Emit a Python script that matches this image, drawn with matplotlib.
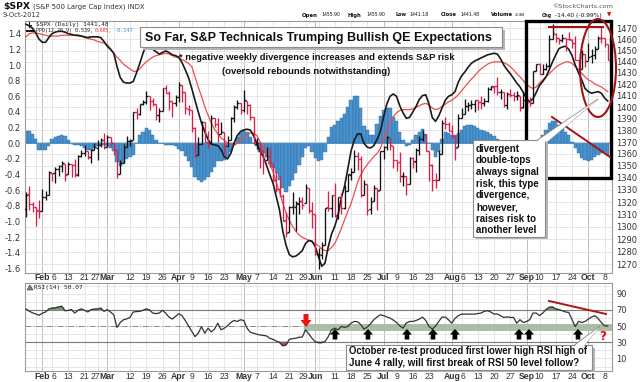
import numpy as np
import pandas as pd
import matplotlib
matplotlib.use("Agg")
import matplotlib.pyplot as plt
from matplotlib.patches import Rectangle, Ellipse, Polygon
from matplotlib.collections import LineCollection
from matplotlib.transforms import blended_transform_factory as btf
from matplotlib.ticker import FixedLocator, FixedFormatter, NullLocator

# ---------------- data ----------------
holidays = ['2012-02-20', '2012-04-06', '2012-05-28', '2012-07-04', '2012-09-03']
start_date, end_date = '2012-01-25', '2012-10-09'

opens = [1314.4, 1326.3, 1318.3, 1316.2, 1313.5,
 1312.5, 1324.2, 1326.2, 1344.3, 1344.3, 1347.0, 1350.0, 1351.2, 1343.1, 1351.3, 1350.5, 1342.6, 1358.1, 1361.2, 1362.1, 1357.5, 1363.5, 1365.2, 1367.6, 1372.2,
 1365.9, 1374.1, 1369.6, 1363.6, 1343.4, 1352.6, 1366.0, 1370.8, 1371.9, 1396.0, 1394.2, 1402.6, 1404.2, 1409.6, 1405.5, 1402.9, 1392.8, 1397.1, 1416.6, 1412.5, 1405.4, 1403.3,
 1408.5, 1419.0, 1413.1, 1398.8, 1397.5, 1382.2, 1359.0, 1368.8, 1387.6, 1370.3, 1369.6, 1390.8, 1385.1, 1377.0, 1378.5, 1367.0, 1372.1, 1390.6, 1400.2, 1403.3,
 1397.9, 1405.5, 1402.3, 1391.5, 1368.8, 1369.2, 1363.2, 1354.6, 1358.1, 1351.9, 1338.4, 1330.8, 1324.8, 1305.1, 1295.7, 1316.1, 1316.0, 1318.7, 1320.8, 1318.9, 1331.3, 1313.1,
 1309.9, 1278.3, 1277.8, 1285.6, 1316.1, 1315.0, 1325.7, 1309.4, 1324.0, 1314.9, 1329.2, 1342.4, 1344.8, 1358.0, 1355.4, 1325.9, 1334.9, 1314.1, 1320.7, 1331.5, 1330.1,
 1362.3, 1365.8, 1373.7, 1367.1, 1354.7, 1353.0, 1341.4, 1341.3, 1334.8, 1356.5, 1353.7, 1363.6, 1373.0, 1376.5, 1362.3, 1350.5, 1338.4, 1338.2, 1360.1, 1385.9, 1385.3,
 1379.3, 1375.1, 1365.5, 1391.0, 1394.5, 1401.2, 1402.3, 1402.6, 1405.9, 1404.4, 1403.9, 1405.6, 1415.8, 1417.9, 1418.1, 1413.1, 1413.5, 1402.0, 1411.1, 1410.4, 1409.3, 1410.1, 1400.1,
 1406.5, 1404.9, 1403.7, 1432.1, 1437.9, 1429.1, 1433.6, 1436.6, 1460.1, 1465.4, 1461.2, 1459.5, 1461.1, 1460.3, 1459.8, 1456.9, 1441.6, 1433.4, 1447.1,
 1440.9, 1445.0, 1446.1, 1451.1, 1461.4, 1460.9, 1455.9]
highs = [1328.3, 1333.5, 1320.1, 1316.2, 1321.4,
 1330.5, 1329.2, 1345.3, 1344.4, 1349.2, 1351.0, 1354.3, 1351.2, 1353.4, 1351.3, 1355.9, 1359.0, 1363.4, 1367.8, 1362.7, 1364.2, 1368.9, 1371.9, 1373.1, 1378.0,
 1376.2, 1374.5, 1369.6, 1363.6, 1354.9, 1368.7, 1374.8, 1373.0, 1396.1, 1399.4, 1402.6, 1405.9, 1414.0, 1409.6, 1407.8, 1402.9, 1399.2, 1416.6, 1419.2, 1413.7, 1405.4, 1410.9,
 1422.4, 1419.0, 1413.1, 1401.6, 1397.5, 1383.0, 1374.7, 1388.1, 1387.6, 1379.7, 1392.8, 1390.8, 1390.3, 1387.4, 1378.5, 1375.6, 1391.4, 1402.1, 1406.6, 1403.3,
 1415.3, 1405.5, 1403.1, 1391.5, 1373.9, 1369.2, 1363.7, 1365.9, 1365.7, 1351.9, 1344.9, 1341.8, 1326.4, 1312.2, 1316.4, 1328.5, 1320.7, 1324.1, 1324.2, 1334.9, 1331.3, 1319.7,
 1309.9, 1282.6, 1287.6, 1315.1, 1329.1, 1325.8, 1335.5, 1324.3, 1327.3, 1333.7, 1343.3, 1348.2, 1363.5, 1361.6, 1358.3, 1337.8, 1334.9, 1324.2, 1334.4, 1331.5, 1362.2,
 1366.4, 1374.8, 1373.8, 1367.1, 1354.7, 1361.5, 1345.0, 1341.3, 1357.7, 1357.3, 1365.4, 1375.3, 1380.4, 1376.5, 1362.3, 1351.5, 1344.0, 1363.1, 1389.2, 1391.7, 1387.2,
 1385.0, 1375.1, 1394.2, 1399.6, 1407.1, 1404.1, 1406.0, 1406.0, 1405.9, 1410.0, 1407.7, 1417.4, 1418.7, 1418.1, 1426.7, 1416.1, 1413.5, 1413.5, 1416.2, 1413.6, 1414.0, 1410.1, 1413.1,
 1409.3, 1408.8, 1432.1, 1437.9, 1438.7, 1437.8, 1439.2, 1463.8, 1474.5, 1465.6, 1461.5, 1465.1, 1461.2, 1467.1, 1460.7, 1463.2, 1441.6, 1450.2, 1447.1,
 1457.1, 1451.5, 1454.3, 1463.1, 1471.0, 1460.9, 1455.9]
lows = [1307.7, 1313.6, 1311.7, 1300.5, 1306.7,
 1312.5, 1321.6, 1326.2, 1337.5, 1335.9, 1341.9, 1344.6, 1337.4, 1343.1, 1340.8, 1340.8, 1341.2, 1357.2, 1358.1, 1355.5, 1352.3, 1363.5, 1354.9, 1366.0, 1363.8,
 1365.9, 1366.4, 1359.1, 1340.0, 1343.4, 1352.6, 1366.0, 1366.7, 1371.9, 1390.0, 1392.8, 1401.5, 1402.4, 1397.7, 1400.6, 1388.7, 1386.9, 1397.1, 1412.0, 1397.2, 1391.6, 1401.4,
 1404.5, 1404.6, 1394.1, 1392.9, 1378.2, 1357.4, 1359.0, 1368.8, 1369.9, 1365.4, 1369.6, 1383.3, 1370.3, 1377.0, 1358.8, 1366.8, 1372.1, 1387.3, 1398.0, 1394.0,
 1395.7, 1393.9, 1388.7, 1368.0, 1363.9, 1347.8, 1343.1, 1354.6, 1348.9, 1336.6, 1328.5, 1324.8, 1304.9, 1292.0, 1295.7, 1310.0, 1296.5, 1310.5, 1314.2, 1318.9, 1310.8, 1298.9,
 1277.3, 1266.7, 1274.2, 1285.6, 1312.7, 1307.8, 1307.7, 1306.6, 1310.5, 1314.1, 1329.2, 1338.6, 1344.8, 1346.5, 1324.4, 1325.9, 1309.3, 1310.3, 1320.7, 1313.3, 1330.1,
 1355.7, 1363.5, 1363.0, 1348.0, 1345.7, 1336.3, 1333.3, 1325.4, 1334.8, 1348.5, 1345.1, 1359.0, 1371.2, 1362.2, 1337.6, 1329.2, 1331.5, 1338.2, 1360.1, 1381.4, 1379.2,
 1373.1, 1354.7, 1365.5, 1391.0, 1394.5, 1396.6, 1398.8, 1395.6, 1397.3, 1398.6, 1401.0, 1404.2, 1414.7, 1412.1, 1410.9, 1406.8, 1400.5, 1398.0, 1409.1, 1405.6, 1406.6, 1397.0, 1399.0,
 1396.6, 1401.3, 1403.7, 1431.5, 1429.1, 1429.1, 1433.0, 1435.3, 1460.1, 1457.6, 1456.1, 1457.9, 1450.0, 1459.5, 1452.1, 1441.6, 1430.5, 1433.4, 1435.2,
 1440.9, 1439.0, 1442.0, 1451.1, 1456.9, 1453.1, 1441.2]
closes = [1326.1, 1318.4, 1316.3, 1313.0, 1312.4,
 1324.1, 1325.5, 1344.9, 1344.3, 1347.1, 1350.0, 1352.0, 1342.6, 1351.8, 1350.5, 1343.2, 1358.0, 1361.2, 1362.2, 1357.7, 1363.5, 1365.7, 1367.6, 1372.2, 1365.7,
 1374.1, 1370.0, 1364.3, 1343.4, 1352.6, 1366.0, 1370.9, 1371.1, 1396.0, 1394.3, 1402.6, 1404.2, 1409.8, 1405.5, 1402.9, 1392.8, 1397.1, 1416.5, 1412.5, 1405.5, 1403.3, 1408.5,
 1419.0, 1413.4, 1399.0, 1398.1, 1382.2, 1358.6, 1368.7, 1387.6, 1370.3, 1369.6, 1390.8, 1385.1, 1376.9, 1378.5, 1366.9, 1372.0, 1390.7, 1400.0, 1403.4, 1397.9,
 1405.8, 1402.3, 1391.6, 1369.1, 1369.6, 1363.7, 1354.6, 1358.0, 1353.4, 1338.4, 1330.7, 1324.8, 1304.9, 1295.2, 1316.0, 1316.6, 1318.9, 1320.7, 1317.8, 1332.4, 1313.3, 1310.3,
 1278.0, 1278.2, 1285.5, 1315.1, 1315.0, 1325.7, 1308.9, 1324.2, 1314.9, 1329.1, 1342.8, 1344.8, 1358.0, 1355.7, 1325.5, 1335.0, 1313.7, 1320.0, 1331.9, 1329.0, 1362.2,
 1365.5, 1374.0, 1367.6, 1354.7, 1352.5, 1341.5, 1341.5, 1334.8, 1356.8, 1353.6, 1363.7, 1372.8, 1376.5, 1362.7, 1350.5, 1338.3, 1337.9, 1360.0, 1386.0, 1385.3, 1379.3,
 1375.3, 1365.0, 1391.0, 1394.2, 1401.4, 1402.2, 1402.8, 1405.9, 1404.1, 1403.9, 1405.5, 1415.5, 1418.2, 1418.1, 1413.2, 1413.5, 1402.1, 1411.1, 1410.4, 1409.3, 1410.5, 1399.5, 1406.6,
 1404.9, 1403.4, 1432.1, 1437.9, 1429.1, 1433.6, 1436.6, 1460.0, 1465.8, 1461.2, 1459.3, 1461.1, 1460.3, 1460.2, 1456.9, 1441.6, 1433.3, 1447.2, 1440.7,
 1444.5, 1445.8, 1451.0, 1461.4, 1460.9, 1455.9, 1441.5]

ppo_line = [1.52, 1.50, 1.47, 1.41, 1.33, 1.29, 1.29, 1.35, 1.40, 1.42,
 1.43, 1.43, 1.42, 1.40, 1.39, 1.38, 1.38, 1.37, 1.36, 1.35,
 1.36, 1.36, 1.36, 1.35, 1.30, 1.24, 1.20, 1.15, 0.98, 0.84,
 0.78, 0.77, 0.77, 0.79, 0.90, 1.02, 1.15, 1.26, 1.24, 1.20,
 1.17, 1.14, 1.16, 1.18, 1.16, 1.13, 1.12, 1.10, 1.03, 0.94,
 0.84, 0.70, 0.55, 0.40, 0.26, 0.15, 0.05, -0.01, -0.02, -0.03,
 -0.08, -0.17, -0.20, -0.13, 0.00, 0.10, 0.15, 0.17, 0.18, 0.17,
 0.10, 0.00, -0.10, -0.17, -0.28, -0.40, -0.51, -0.68, -0.85, -1.12,
 -1.30, -1.42, -1.45, -1.44, -1.41, -1.37, -1.28, -1.24, -1.25, -1.32,
 -1.45, -1.57, -1.53, -1.32, -1.16, -1.06, -0.92, -0.70, -0.55, -0.33,
 -0.10, 0.04, 0.12, 0.12, 0.00, -0.05, -0.06, -0.03, 0.05, 0.15,
 0.33, 0.50, 0.60, 0.63, 0.60, 0.48, 0.39, 0.32, 0.33, 0.40,
 0.47, 0.56, 0.61, 0.62, 0.50, 0.33, 0.28, 0.35, 0.45, 0.55,
 0.60, 0.62, 0.66, 0.78, 0.86, 0.91, 0.97, 1.02, 1.05, 1.07,
 1.09, 1.11, 1.13, 1.14, 1.15, 1.14, 1.08, 1.00, 0.94, 0.89,
 0.83, 0.77, 0.72, 0.65, 0.57, 0.53, 0.57, 0.65, 0.74, 0.79,
 0.85, 0.94, 1.04, 1.13, 1.21, 1.23, 1.24, 1.20, 1.12, 1.00,
 0.90, 0.81, 0.70, 0.66, 0.64, 0.65, 0.66, 0.64, 0.58, 0.54]
ppo_signal = [1.36, 1.40, 1.41, 1.41, 1.40, 1.39, 1.38, 1.37, 1.37, 1.37,
 1.37, 1.38, 1.38, 1.38, 1.38, 1.38, 1.37, 1.37, 1.35, 1.34,
 1.33, 1.32, 1.30, 1.29, 1.28, 1.26, 1.21, 1.15, 1.10, 1.06,
 1.01, 0.98, 0.95, 0.92, 0.92, 0.95, 1.00, 1.04, 1.07, 1.10,
 1.12, 1.13, 1.14, 1.15, 1.14, 1.12, 1.10, 1.09, 1.07, 1.05,
 1.02, 0.98, 0.85, 0.72, 0.60, 0.47, 0.36, 0.26, 0.18, 0.12,
 0.07, 0.04, 0.00, -0.01, -0.02, 0.00, 0.03, 0.07, 0.11, 0.13,
 0.13, 0.10, 0.02, -0.05, -0.15, -0.27, -0.36, -0.50, -0.62, -0.76,
 -0.89, -0.98, -1.06, -1.12, -1.17, -1.20, -1.22, -1.24, -1.26, -1.28,
 -1.31, -1.35, -1.37, -1.37, -1.33, -1.28, -1.19, -1.09, -0.98, -0.87,
 -0.77, -0.64, -0.50, -0.40, -0.33, -0.27, -0.22, -0.17, -0.13, -0.07,
 0.06, 0.16, 0.27, 0.34, 0.39, 0.42, 0.43, 0.43, 0.43, 0.44,
 0.46, 0.48, 0.50, 0.51, 0.49, 0.45, 0.43, 0.44, 0.47, 0.50,
 0.53, 0.55, 0.58, 0.62, 0.67, 0.72, 0.77, 0.82, 0.86, 0.91,
 0.95, 0.98, 1.01, 1.03, 1.04, 1.04, 1.04, 1.03, 1.01, 0.98,
 0.94, 0.89, 0.85, 0.80, 0.75, 0.72, 0.70, 0.72, 0.77, 0.81,
 0.85, 0.89, 0.93, 0.97, 1.00, 1.02, 1.04, 1.04, 1.02, 0.98,
 0.94, 0.89, 0.85, 0.81, 0.79, 0.76, 0.74, 0.72, 0.69, 0.66]
ppo_hist = [0.16, 0.16, 0.12, 0.05, -0.08, -0.09, -0.08, -0.03, 0.05, 0.08,
 0.09, 0.10, 0.09, 0.04, -0.01, -0.02, -0.02, -0.03, -0.06, -0.09,
 -0.08, -0.06, -0.04, -0.02, -0.02, -0.04, -0.06, -0.10, -0.24, -0.29,
 -0.25, -0.20, -0.17, -0.15, 0.00, 0.10, 0.15, 0.19, 0.17, 0.10,
 0.04, 0.00, 0.01, -0.02, -0.02, -0.02, -0.04, -0.07, -0.10, -0.16,
 -0.22, -0.30, -0.43, -0.47, -0.50, -0.47, -0.43, -0.36, -0.30, -0.23,
 -0.22, -0.21, -0.17, -0.11, -0.02, 0.08, 0.13, 0.17, 0.15, 0.08,
 0.00, -0.04, -0.11, -0.13, -0.17, -0.26, -0.32, -0.38, -0.47, -0.57,
 -0.62, -0.55, -0.47, -0.38, -0.28, -0.17, -0.06, -0.04, -0.11, -0.19,
 -0.23, -0.21, -0.11, 0.08, 0.21, 0.23, 0.29, 0.32, 0.37, 0.46,
 0.55, 0.60, 0.60, 0.45, 0.22, 0.17, 0.10, 0.10, 0.25, 0.35,
 0.42, 0.45, 0.45, 0.34, 0.28, 0.15, 0.04, -0.04, -0.02, 0.04,
 0.10, 0.15, 0.18, 0.10, 0.00, -0.09, -0.17, -0.11, 0.06, 0.15,
 0.13, 0.10, 0.10, 0.13, 0.17, 0.22, 0.23, 0.23, 0.22, 0.19,
 0.17, 0.16, 0.15, 0.12, 0.09, 0.06, 0.02, -0.02, -0.05, -0.07,
 -0.09, -0.10, -0.11, -0.11, -0.10, -0.08, -0.05, -0.01, 0.04, 0.10,
 0.17, 0.26, 0.28, 0.28, 0.23, 0.19, 0.15, 0.10, 0.02, -0.06,
 -0.13, -0.19, -0.21, -0.22, -0.21, -0.18, -0.15, -0.13, -0.11, -0.15]
rsi14 = [71.0, 68.5, 66.5, 65.0, 63.5, 66.0, 67.5, 71.0, 72.3, 72.5,
 73.7, 74.6, 69.0, 69.5, 70.4, 66.2, 69.6, 71.2, 69.6, 67.5,
 70.4, 71.0, 71.2, 72.3, 68.3, 70.4, 67.5, 64.0, 48.3, 54.5,
 57.9, 59.0, 60.8, 67.5, 68.0, 68.3, 69.6, 71.2, 70.0, 66.2,
 65.5, 66.2, 69.6, 66.0, 61.2, 58.7, 62.0, 65.4, 62.9, 57.0,
 50.4, 44.0, 37.0, 41.2, 49.5, 41.2, 47.5, 42.9, 46.3, 53.7,
 45.4, 47.5, 50.4, 54.5, 57.0, 55.8, 57.9, 57.0, 47.5, 42.5,
 41.2, 40.0, 39.1, 38.5, 37.9, 35.0, 33.7, 31.5, 30.0, 25.8,
 26.6, 33.7, 34.5, 35.0, 36.3, 36.5, 45.4, 40.4, 35.0, 30.5,
 29.6, 29.6, 31.0, 37.0, 45.4, 47.5, 45.4, 49.6, 48.5, 49.6,
 53.7, 55.8, 55.5, 52.0, 46.3, 49.0, 53.0, 57.9, 61.2, 64.1,
 63.0, 61.5, 60.0, 57.5, 54.5, 50.4, 47.5, 53.7, 55.8, 55.8,
 57.0, 58.7, 61.2, 57.0, 49.6, 46.3, 50.0, 55.8, 61.2, 61.2,
 57.9, 53.7, 59.6, 63.0, 64.9, 64.9, 65.0, 65.0, 64.9, 65.5,
 66.2, 68.3, 69.1, 67.5, 64.9, 65.0, 63.0, 60.8, 61.5, 60.8,
 60.8, 53.7, 57.9, 54.5, 55.8, 58.0, 66.2, 66.2, 63.0, 66.2,
 70.4, 73.3, 73.7, 71.2, 70.4, 69.1, 67.5, 67.0, 57.9, 49.5,
 55.8, 54.5, 55.8, 58.7, 61.2, 63.0, 59.6, 54.5, 50.4, 50.07]

ppo_ticks = [-1.6, -1.4, -1.2, -1.0, -0.8, -0.6, -0.4, -0.2, 0.0, 0.2, 0.4, 0.6, 0.8, 1.0, 1.2, 1.4]
price_ticks = list(range(1270, 1471, 10))
rsi_ticks = [10, 30, 50, 70, 90]

# ---------------- layout ----------------
W, H = 640, 382
fig = plt.figure(figsize=(W / 100, H / 100), dpi=100)
fig.patch.set_facecolor('white')
renderer = fig.canvas.get_renderer()

def P(x, y):
    return (x / W, 1 - y / H)

L, R = 25, 612
T1, B1 = 21, 273.3
T2, B2 = 282.5, 371
ax = fig.add_axes([L / W, 1 - B1 / H, (R - L) / W, (B1 - T1) / H])
axp = ax.twinx()
axr = fig.add_axes([L / W, 1 - B2 / H, (R - L) / W, (B2 - T2) / H])

dates = pd.bdate_range(start_date, end_date)
dates = dates[~dates.isin(pd.to_datetime(holidays))]
n = len(dates)
xs = np.arange(n)
XMIN, XMAX = -0.31, 180.3
PXB = (R - L) / (XMAX - XMIN)   # pixels per bar

opens_a, highs_a, lows_a, closes_a = map(np.array, (opens, highs, lows, closes))
ppo_a, sig_a, hist_a, rsi_a = map(np.array, (ppo_line, ppo_signal, ppo_hist, rsi14))

week_idx = [i for i in range(1, n) if dates[i].isocalendar()[1] != dates[i - 1].isocalendar()[1]]
month_idx = [i for i in range(1, n) if dates[i].month != dates[i - 1].month]

GRID = '#e2e2e2'
MGRID = '#bdbdbd'
TXT = '#333333'

for a in (ax, axr):
    a.set_xlim(XMIN, XMAX)
    a.set_xticks([])
    for i in week_idx:
        if i not in month_idx:
            a.axvline(i, color=GRID, lw=0.6, zorder=0)
    for i in month_idx:
        a.axvline(i, color=MGRID, lw=0.7, zorder=0)
    for s in a.spines.values():
        s.set_color('#9a9a9a')
        s.set_linewidth(0.8)
for s in axp.spines.values():
    s.set_visible(False)

# ---------------- main panel ----------------
ax.set_ylim(-1.66, 1.562)
axp.set_yscale('log')
axp.set_ylim(1263.0, 1476.8)

hgrid_tr = btf(ax.transAxes, axp.transData)
for p in price_ticks:
    ax.plot([0, 1], [p, p], transform=hgrid_tr, color=GRID, lw=0.6, zorder=0)

ax.bar(xs, hist_a, width=1.0, color='#4a93cd', edgecolor='#2c6ba5', linewidth=0.3, zorder=2)
ax.axhline(0, color='#4a93cd', lw=0.7, zorder=2)
ax.plot(xs, sig_a, color='#f04c4c', lw=0.9, zorder=3)
ax.plot(xs, ppo_a, color='#1a1a1a', lw=1.2, zorder=4)

prev = np.concatenate([[opens_a[0] + 1], closes_a[:-1]])
bar_cols = np.where(closes_a >= prev, '#111111', '#dc1f48')
segs, cols = [], []
for i in range(n):
    segs.append([(i, lows_a[i]), (i, highs_a[i])])
    segs.append([(i - 0.55, opens_a[i]), (i, opens_a[i])])
    segs.append([(i, closes_a[i]), (i + 0.55, closes_a[i])])
    cols += [bar_cols[i]] * 3
axp.add_collection(LineCollection(segs, colors=cols, linewidths=0.95, zorder=5))
axp.set_xlim(XMIN, XMAX)

ax.yaxis.set_major_locator(FixedLocator(ppo_ticks))
ax.yaxis.set_major_formatter(FixedFormatter([f"{v:.1f}" for v in ppo_ticks]))
ax.tick_params(axis='y', labelsize=6, colors=TXT, length=0, pad=3)
axp.yaxis.set_major_locator(FixedLocator(price_ticks))
axp.yaxis.set_major_formatter(FixedFormatter([str(p) for p in price_ticks]))
axp.yaxis.set_minor_locator(NullLocator())
axp.tick_params(axis='y', which='both', labelsize=6, colors=TXT, length=0, pad=3)

# ---------------- RSI panel ----------------
axr.set_ylim(-5.5, 104)
for v in range(0, 101, 10):
    axr.axhline(v, color=GRID, lw=0.6, zorder=0)
axr.axhline(70, color='#7a7a7a', lw=0.8, zorder=1)
axr.axhline(30, color='#7a7a7a', lw=0.8, zorder=1)
axr.axhline(50, color='#8a8a8a', lw=0.7, ls=(0, (6, 2, 1, 2)), zorder=1)
axr.add_patch(Rectangle((85.6, 44), XMAX - 85.6, 9, facecolor='#a6bca1', edgecolor='none', alpha=0.95, zorder=1))
axr.fill_between(xs, rsi_a, 70, where=rsi_a > 70, interpolate=True, color='#7b9c78', zorder=2)
axr.fill_between(xs, rsi_a, 30, where=rsi_a < 30, interpolate=True, color='#a05858', zorder=2)
axr.plot(xs, rsi_a, color='#333333', lw=0.9, zorder=3)
axr.yaxis.tick_right()
axr.yaxis.set_major_locator(FixedLocator(rsi_ticks))
axr.tick_params(axis='y', labelsize=6, colors=TXT, length=0, pad=3)

# ---------------- date labels ----------------
DFONT = dict(family='Liberation Sans', fontsize=6.2, color=TXT)

def date_labels(a, ypix):
    y = 1 - ypix / H
    for i in month_idx:
        fig.text(L / W + (i - XMIN) * PXB / W, y, dates[i].strftime('%b'), ha='center', va='center',
                 fontweight='bold', **DFONT)
    for i in week_idx:
        if i in month_idx:
            continue
        d = min(month_idx, key=lambda m: abs(i - m))
        if abs(i - d) <= 2:
            continue
        shift = 0
        if abs(i - d) == 3:
            shift = -2.5 if i < d else 1.5
        fig.text((L + (i - XMIN) * PXB + shift) / W, y, str(dates[i].day), ha='center', va='center', **DFONT)

date_labels(ax, 278)
date_labels(axr, 376.5)

# ---------------- helpers ----------------
def fit_text(s, x0, y, wpx, size=7, ha='left', **kw):
    t = fig.text(x0 / W, 1 - y / H, s, fontsize=size, ha=ha, va='center', **kw)
    bb = t.get_window_extent(renderer=renderer)
    t.set_fontsize(size * wpx / bb.width)
    return t

def box(x0, y0, x1, y1, shadow=2.5, lw=0.8):
    fig.add_artist(Rectangle(P(x0 + shadow, y1 + shadow), (x1 - x0) / W, (y1 - y0) / H,
                             transform=fig.transFigure, facecolor='#b5b5b5', edgecolor='none', zorder=8))
    fig.add_artist(Rectangle(P(x0, y1), (x1 - x0) / W, (y1 - y0) / H,
                             transform=fig.transFigure, facecolor='white', edgecolor='#8c8c8c', lw=lw, zorder=9))

def poly(pts, **kw):
    fig.add_artist(Polygon([P(x, y) for x, y in pts], closed=True, transform=fig.transFigure, **kw))

def pline(pts, **kw):
    fig.add_artist(plt.Line2D([P(x, y)[0] for x, y in pts], [P(x, y)[1] for x, y in pts],
                              transform=fig.transFigure, **kw))

# ---------------- header ----------------
fit_text(r"\$SPX", 3, 6.5, 27, size=8, fontweight='bold', color='#111', zorder=10)
fit_text("(S&P 500 Large Cap Index) INDX", 33, 6.5, 112, size=6, color='#333', zorder=10)
fit_text("9-Oct-2012", 3, 15, 38, size=6, color='#333', zorder=10)
fit_text("\u00a9StockCharts.com", 613, 6, 60, size=5.5, ha='right', color='#555', zorder=10)
hdr = [("Open", 302, 16, True), ("1455.90", 321, 19, False), ("High", 348, 14, True),
       ("1455.90", 366, 19, False), ("Low", 395, 11, True), ("1441.18", 409, 19, False),
       ("Close", 441, 16, True), ("1441.48", 460, 19, False), ("Volume", 491, 22, True),
       ("2.4B", 515, 10, False), ("Chg", 542, 10, True), ("-14.40 (-0.99%)", 555, 47, False)]
for s, x0, w, b in hdr:
    fit_text(s, x0, 15, w, size=5.5, fontweight='bold' if b else 'normal', color='#111', zorder=10)
fig.text(*P(607, 15), "\u25bc", fontsize=4, color='#d01010', ha='left', va='center')

# legends inside panels
fit_text(r"\$SPX (Daily) 1441.48", 36, 24.5, 74, size=5, family='DejaVu Sans Mono', color='#222', zorder=10)
pline([(27, 24.5), (31, 24.5)], color='#222', lw=0.8, zorder=10)
pline([(29, 22), (29, 27)], color='#222', lw=0.8, zorder=10)
pline([(27, 30.5), (33, 30.5)], color='#111', lw=1.4, zorder=10)
fit_text("PPO(12,26,9) 0.539,", 36, 30.5, 58, size=5, family='DejaVu Sans Mono', color='#222', zorder=10)
fit_text("0.605,", 95, 30.5, 18, size=5, family='DejaVu Sans Mono', color='#ee3333', zorder=10)
fit_text("-0.147", 114, 30.5, 19, size=5, family='DejaVu Sans Mono', color='#3a8fd0', zorder=10)
poly([(27, 290), (30, 285), (33, 290)], facecolor='#6f8f6c', edgecolor='#333', lw=0.4, zorder=10)
fit_text("RSI(14) 50.07", 34, 287.5, 50, size=5, family='DejaVu Sans Mono', color='#222', zorder=10)

# ---------------- annotations ----------------
ANN = dict(family='Liberation Sans', fontweight='bold', color='#111111', zorder=10)
box(140, 27, 502, 47)
fit_text("So Far, S&P Technicals Trumping Bullish QE Expectations", 145, 37.5, 348, size=9, **ANN)
fit_text("* negative weekly divergence increases and extends S&P risk", 179, 57, 277, size=7, **ANN)
fit_text("(oversold rebounds notwithstanding)", 222, 72, 168, size=7, **ANN)

# black box, ellipse, red lines around the September double-top
fig.add_artist(Rectangle(P(526, 178), (611 - 526) / W, (178 - 21) / H, transform=fig.transFigure,
                         facecolor='none', edgecolor='black', lw=2.4, zorder=7))
fig.add_artist(Ellipse(P(598, 68), 36 / W, 98 / H, transform=fig.transFigure,
                       facecolor='none', edgecolor='#a01515', lw=1.5, zorder=7))
pline([(549, 27), (603, 27)], color='#a01515', lw=1.5, zorder=7)
pline([(552, 117), (610, 157)], color='#a01515', lw=1.4, zorder=7)

# callout with pointer
poly([(536, 141), (548, 141), (598, 99)], facecolor='white', edgecolor='#8c8c8c', lw=0.7, zorder=8)
box(473, 140, 545, 237)
poly([(536.5, 141.6), (547.3, 141.6), (597, 100)], facecolor='white', edgecolor='none', zorder=9.5)
lines = ["divergent", "double-tops", "always signal", "risk, this type", "divergence,",
         "however,", "raises risk to", "another level"]
probe = fit_text("risk, this type", -500, 0, 63, size=7.5, **ANN)
lsize = probe.get_fontsize()
probe.remove()
for k, s in enumerate(lines):
    fig.text(*P(476, 148.5 + k * 11.7), s, fontsize=lsize, ha='left', va='center', **ANN)

# RSI panel annotations
poly([(303.5, 314), (308.5, 314), (308.5, 320), (311.5, 320), (306, 327), (300.5, 320), (303.5, 320)],
     facecolor='#ee1111', edgecolor='none', zorder=10)
for ax_x in [335, 368, 407, 433, 455, 519, 529, 578]:
    poly([(ax_x, 329), (ax_x + 5, 334.5), (ax_x + 2.3, 334.5), (ax_x + 2.3, 339.5),
          (ax_x - 2.3, 339.5), (ax_x - 2.3, 334.5), (ax_x - 5, 334.5)],
         facecolor='black', edgecolor='none', zorder=10)
pline([(549, 301), (606, 314)], color='#b01515', lw=1.4, zorder=10)
poly([(574, 345.5), (584, 345.5), (600, 326)], facecolor='white', edgecolor='#8c8c8c', lw=0.7, zorder=8)
box(346, 345, 592, 369.5)
poly([(574.5, 346.2), (583.5, 346.2), (599.4, 327)], facecolor='white', edgecolor='none', zorder=9.5)
fit_text("October re-test produced first lower high RSI high of", 349, 351.5, 238, size=7.5, **ANN)
fit_text("June 4 rally, will first break of RSI 50 level follow?", 349, 362.5, 230, size=7.5, **ANN)
fig.text(*P(603, 336), "?", fontsize=8.5, color='#e01010', fontweight='bold', ha='center', va='center', zorder=10)

fig.savefig("out.png", dpi=100, facecolor='white')
